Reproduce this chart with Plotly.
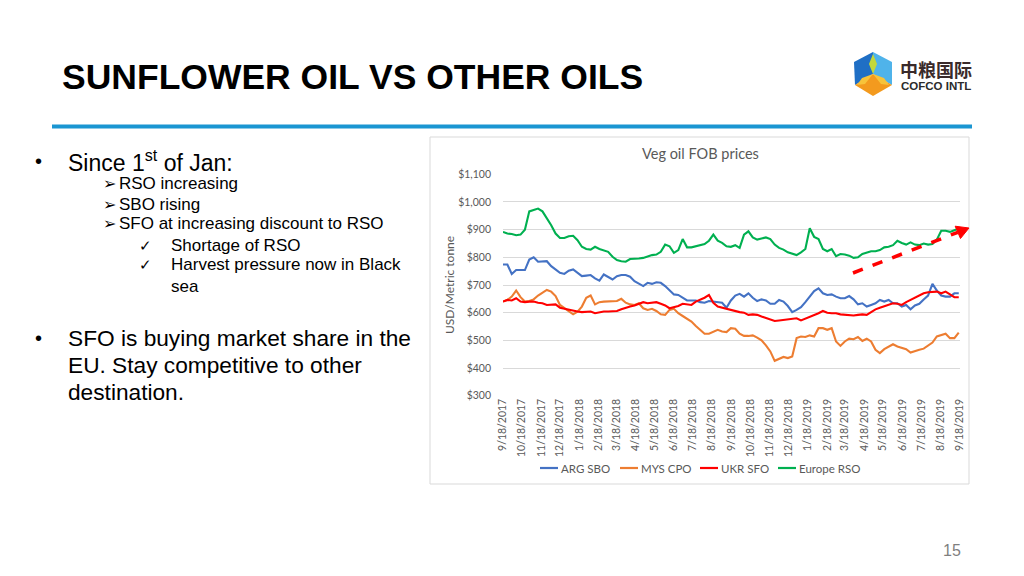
import pandas as pd
import plotly.graph_objects as go

# page body has an 8px margin, so the figure is sized to fit inside the window
OFF = 8
W, H = 1024 - 2 * OFF, 576 - 2 * OFF

# ---------------- data ----------------
dates = pd.date_range("2017-09-18", periods=105, freq="7D")

arg_sbo = [774,774,740,754,754,754,792,800,784,786,786,768,756,744,740,752,756,744,732,734,736,724,716,738,730,720,
           732,736,736,730,714,706,696,708,704,710,708,696,680,666,664,654,644,644,644,638,636,642,640,640,636,618,
           644,662,668,658,670,654,642,648,644,632,632,646,640,624,602,610,620,638,656,678,688,670,664,666,658,652,
           652,660,648,630,634,622,628,634,646,640,646,634,634,622,628,612,626,632,648,662,704,680,662,658,658,670,670]
mys_cpo = [640,646,658,680,656,640,642,648,662,672,682,676,660,628,616,604,594,604,622,654,662,630,638,640,640,642,
           642,650,636,630,628,634,616,610,614,606,594,592,610,614,598,588,578,568,552,538,524,524,532,538,532,530,
           544,542,524,516,516,518,510,500,482,460,426,432,440,436,442,508,514,512,518,514,544,544,538,544,496,480,
           496,506,504,512,498,506,496,466,454,468,476,486,478,472,468,456,462,466,470,482,492,514,520,524,508,508,528]
ukr_sfo = [640,646,644,652,640,638,640,640,636,634,628,630,630,618,614,610,606,604,602,604,604,598,602,604,604,604,
           606,612,618,622,626,632,638,634,636,638,632,626,616,620,624,632,630,628,640,646,654,664,636,622,618,612,
           610,606,602,600,592,594,592,586,580,574,570,572,574,578,578,580,572,578,586,592,598,606,600,598,598,594,
           592,590,590,592,594,592,602,612,618,624,630,634,632,628,638,646,654,662,670,674,676,676,670,676,666,656,656]
europe_rso = [892,886,884,880,882,900,966,972,976,966,942,916,886,870,870,876,878,862,838,830,828,838,830,824,820,802,
              790,786,784,794,794,796,798,804,808,810,820,846,840,816,826,866,836,836,840,842,848,860,882,860,852,840,
              838,844,834,882,894,872,864,868,872,866,846,834,828,818,814,808,818,830,905,874,866,830,822,830,804,812,
              810,806,798,800,812,818,822,822,826,836,838,844,860,852,846,854,846,844,850,846,848,864,896,896,892,898,904]

series_names = ["ARG SBO", "MYS CPO", "UKR SFO", "Europe RSO"]
series_values = [arg_sbo, mys_cpo, ukr_sfo, europe_rso]
series_colors = ["#4472C4", "#ED7D31", "#FF0000", "#00B050"]

tick_dates = ["2017-09-18","2017-10-18","2017-11-18","2017-12-18","2018-01-18","2018-02-18","2018-03-18",
              "2018-04-18","2018-05-18","2018-06-18","2018-07-18","2018-08-18","2018-09-18","2018-10-18",
              "2018-11-18","2018-12-18","2019-01-18","2019-02-18","2019-03-18","2019-04-18","2019-05-18",
              "2019-06-18","2019-07-18","2019-08-18","2019-09-18"]
tick_labels = ["9/18/2017","10/18/2017","11/18/2017","12/18/2017","1/18/2018","2/18/2018","3/18/2018",
               "4/18/2018","5/18/2018","6/18/2018","7/18/2018","8/18/2018","9/18/2018","10/18/2018",
               "11/18/2018","12/18/2018","1/18/2019","2/18/2019","3/18/2019","4/18/2019","5/18/2019",
               "6/18/2019","7/18/2019","8/18/2019","9/18/2019"]
y_ticks = [300, 400, 500, 600, 700, 800, 900, 1000, 1100]


def px(x):
    return (x - OFF) / W


def py(y):
    return 1 - (y - OFF) / H


fig = go.Figure()
for name, vals, col in zip(series_names, series_values, series_colors):
    fig.add_trace(go.Scatter(x=dates, y=vals, mode="lines", name=name,
                             line=dict(color=col, width=2.1)))

chart_font = "Lato, 'Open Sans', sans-serif"
slide_font = "'Liberation Sans', Arial, sans-serif"
gray = "#595959"

fig.update_layout(
    width=W, height=H,
    margin=dict(l=0, r=0, t=0, b=0, pad=0, autoexpand=False),
    paper_bgcolor="white", plot_bgcolor="white",
    showlegend=False,
    xaxis=dict(domain=[px(503), px(960)], type="date",
               range=["2017-09-18", "2019-09-18"],
               tickmode="array", tickvals=tick_dates, ticktext=tick_labels,
               tickangle=-90, tickfont=dict(family=chart_font, size=10.5, color=gray),
               showgrid=False, showline=False, zeroline=False, ticks="", automargin=False),
    yaxis=dict(domain=[py(395.7), py(174.3)], range=[300, 1100],
               tickmode="array", tickvals=y_ticks,
               ticktext=["$" + format(v, ",") for v in y_ticks],
               tickfont=dict(family=chart_font, size=10.5, color=gray),
               showgrid=True, gridcolor="#D9D9D9", gridwidth=1,
               zeroline=False, showline=False, ticks="", ticklabelstandoff=11, automargin=False),
)

shapes = []
ann = []


def text(x, y, s, size, color="#000000", family=slide_font, xanchor="left", bold=False, **kw):
    if bold:
        s = "<b>" + s + "</b>"
    ann.append(dict(x=px(x), y=py(y), xref="paper", yref="paper", text=s, showarrow=False,
                    xanchor=xanchor, yanchor="middle", font=dict(family=family, size=size, color=color), **kw))


# chart frame
shapes.append(dict(type="rect", xref="paper", yref="paper", x0=px(430), x1=px(969), y0=py(484), y1=py(137),
                   line=dict(color="#D9D9D9", width=1), fillcolor="rgba(0,0,0,0)", layer="below"))
# blue divider line
shapes.append(dict(type="line", xref="paper", yref="paper", x0=px(52), x1=px(972), y0=py(126.5), y1=py(126.5),
                   line=dict(color="#1B96D2", width=4)))
# red dashed arrow
shapes.append(dict(type="line", xref="paper", yref="paper", x0=px(853), y0=py(273), x1=px(957.8), y1=py(232.3),
                   line=dict(color="#FF0000", width=3.5, dash="dash")))


def path(pts):
    return "M " + " L ".join(f"{px(a):.5f},{py(b):.5f}" for a, b in pts) + " Z"


shapes.append(dict(type="path", xref="paper", yref="paper",
                   path=path([(969, 228), (960.5, 238.5), (955.2, 226.2)]),
                   fillcolor="#FF0000", line=dict(color="#FF0000", width=1)))

# legend (Excel style: short line sample + label)
legend_x = [540, 620, 700, 778]
for lx, name, col in zip(legend_x, series_names, series_colors):
    shapes.append(dict(type="line", xref="paper", yref="paper", x0=px(lx), x1=px(lx + 18),
                       y0=py(468), y1=py(468), line=dict(color=col, width=2.2)))
    text(lx + 19, 468, name, 11.5, color=gray, family=chart_font)

# logo cube
cx, cy = 873, 74
top, ul, ll, bot, lr, ur = (873, 52), (854, 62), (855, 85), (873, 96), (892, 85), (892, 62)
shapes.append(dict(type="path", xref="paper", yref="paper", path=path([top, ul, ll, (cx, cy)]),
                   fillcolor="#1F6FC5", line=dict(width=0)))
shapes.append(dict(type="path", xref="paper", yref="paper", path=path([top, ur, lr, (cx, cy)]),
                   fillcolor="#4FB3EA", line=dict(width=0)))
shapes.append(dict(type="path", xref="paper", yref="paper", path=path([(cx, cy), ll, bot, lr]),
                   fillcolor="#F39A1E", line=dict(width=0)))
shapes.append(dict(type="path", xref="paper", yref="paper",
                   path=path([(cx, cy), (869, 64), (873, 54), (877, 64)]),
                   fillcolor="#C3D83A", line=dict(width=0)))
shapes.append(dict(type="path", xref="paper", yref="paper",
                   path=path([(cx, cy), (865, 84), (857, 85), (862, 78)]),
                   fillcolor="#F7C33A", line=dict(width=0)))
shapes.append(dict(type="path", xref="paper", yref="paper",
                   path=path([(cx, cy), (881, 84), (889, 85), (884, 78)]),
                   fillcolor="#F7C33A", line=dict(width=0)))
fig.update_layout(shapes=shapes)

# title
text(60, 77, "SUNFLOWER OIL VS OTHER OILS", 35.5, bold=True)
# logo texts
text(898, 69, "中粮国际", 18, color="#3A2A2A", family="'Noto Sans CJK SC'", bold=True)
text(899, 86, "COFCO INTL", 11.5, color="#2B2B2B", family=slide_font, bold=True)

# bullets
text(33, 161, "•", 20)
text(66, 161, "Since 1<sup>st</sup> of Jan:", 23)
for yy, s in [(183, "RSO increasing"), (204, "SBO rising"), (224, "SFO at increasing discount to RSO")]:
    text(101, yy, "➢", 16)
    text(117, yy, s, 17)
for yy, s in [(245, "Shortage of RSO"), (265, "Harvest pressure now in Black")]:
    text(137, yy, "✓", 15)
    text(169, yy, s, 17)
text(169, 286, "sea", 17)
text(33, 338, "•", 20)
text(66, 338, "SFO is buying market share in the", 22.7)
text(66, 365, "EU. Stay competitive to other", 22.7)
text(66, 392, "destination.", 22.7)

# chart texts
text(700, 154, "Veg oil FOB prices", 14.5, color=gray, family=chart_font, xanchor="center")
text(449, 285, "USD/Metric tonne", 12, color=gray, family=chart_font, xanchor="center", textangle=-90)

# page number
text(952, 550, "15", 16, color="#7F7F7F", xanchor="center")

fig.update_layout(annotations=ann)
fig.write_html("out.html")
